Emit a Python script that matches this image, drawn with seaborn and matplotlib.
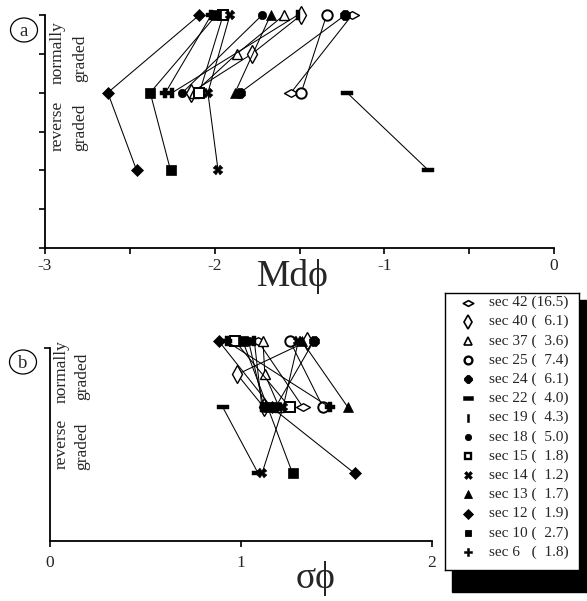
import numpy as np
import pandas as pd
import matplotlib
matplotlib.use("Agg")
import matplotlib.pyplot as plt
from matplotlib.path import Path
from matplotlib.patches import Rectangle, Ellipse
import seaborn as sns

# ---------------- data ----------------
sec_labels = ['sec 42 (16.5)', 'sec 40 (  6.1)', 'sec 37 (  3.6)', 'sec 25 (  7.4)',
              'sec 24 (  6.1)', 'sec 22 (  4.0)', 'sec 19 (  4.3)', 'sec 18 (  5.0)',
              'sec 15 (  1.8)', 'sec 14 (  1.2)', 'sec 13 (  1.7)', 'sec 12 (  1.9)',
              'sec 10 (  2.7)', 'sec 6   (  1.8)']

# sample level (0 = top of bed, downward)
sec42_level = [0, 2];    sec42_md = [-1.19, -1.55];        sec42_sd = [1.09, 1.325]
sec40_level = [0, 1, 2]; sec40_md = [-1.49, -1.78, -2.14]; sec40_sd = [1.345, 0.98, 1.12]
sec37_level = [0, 1, 2]; sec37_md = [-1.59, -1.87, -2.12]; sec37_sd = [1.115, 1.125, 1.20]
sec25_level = [0, 2];    sec25_md = [-1.34, -1.49];        sec25_sd = [1.257, 1.43]
sec24_level = [0, 2];    sec24_md = [-1.23, -1.85];        sec24_sd = [1.38, 1.18]
sec22_level = [2, 4];    sec22_md = [-1.22, -0.74];        sec22_sd = [0.905, 1.09]
sec19_level = [0, 2];    sec19_md = [-1.51, -2.25];        sec19_sd = [1.07, 1.11]
sec18_level = [0, 2];    sec18_md = [-1.72, -2.19];        sec18_sd = [1.04, 1.12]
sec15_level = [0, 2];    sec15_md = [-1.95, -2.09];        sec15_sd = [0.97, 1.255]
sec14_level = [0, 2, 4]; sec14_md = [-1.91, -2.04, -1.98]; sec14_sd = [1.30, 1.22, 1.11]
sec13_level = [0, 2];    sec13_md = [-1.67, -1.88];        sec13_sd = [1.32, 1.56]
sec12_level = [0, 2, 4]; sec12_md = [-2.09, -2.63, -2.46]; sec12_sd = [0.885, 1.16, 1.595]
sec10_level = [0, 2, 4]; sec10_md = [-1.99, -2.38, -2.26]; sec10_sd = [1.01, 1.14, 1.27]
sec6_level = [0, 2];     sec6_md = [-2.02, -2.29];         sec6_sd = [0.925, 1.465]

series = [
    (sec_labels[0], sec42_level, sec42_md, sec42_sd),
    (sec_labels[1], sec40_level, sec40_md, sec40_sd),
    (sec_labels[2], sec37_level, sec37_md, sec37_sd),
    (sec_labels[3], sec25_level, sec25_md, sec25_sd),
    (sec_labels[4], sec24_level, sec24_md, sec24_sd),
    (sec_labels[5], sec22_level, sec22_md, sec22_sd),
    (sec_labels[6], sec19_level, sec19_md, sec19_sd),
    (sec_labels[7], sec18_level, sec18_md, sec18_sd),
    (sec_labels[8], sec15_level, sec15_md, sec15_sd),
    (sec_labels[9], sec14_level, sec14_md, sec14_sd),
    (sec_labels[10], sec13_level, sec13_md, sec13_sd),
    (sec_labels[11], sec12_level, sec12_md, sec12_sd),
    (sec_labels[12], sec10_level, sec10_md, sec10_sd),
    (sec_labels[13], sec6_level, sec6_md, sec6_sd),
]

# ---------------- marker styles ----------------
wide_diamond = Path([(-1, 0), (0, 0.55), (1, 0), (0, -0.55), (-1, 0)],
                    [Path.MOVETO, Path.LINETO, Path.LINETO, Path.LINETO, Path.CLOSEPOLY])
hbar = Path([(-1, -0.38), (1, -0.38), (1, 0.38), (-1, 0.38), (-1, -0.38)],
            [Path.MOVETO, Path.LINETO, Path.LINETO, Path.LINETO, Path.CLOSEPOLY])
vbar = Path([(-0.4, -1), (0.4, -1), (0.4, 1), (-0.4, 1), (-0.4, -1)],
            [Path.MOVETO, Path.LINETO, Path.LINETO, Path.LINETO, Path.CLOSEPOLY])

# (marker, size, filled, edgewidth)
styles = [
    (wide_diamond, 10, False, 1.0),
    ('d', 9, False, 1.0),
    ('^', 7, False, 1.0),
    ('o', 7.5, False, 1.4),
    ('8', 7.5, True, 0.5),
    (hbar, 9, True, 0.3),
    (vbar, 7, True, 0.3),
    ('o', 6, True, 0.5),
    ('s', 6.5, False, 1.4),
    ('X', 7, True, 0.3),
    ('^', 7, True, 0.5),
    ('D', 6.5, True, 0.5),
    ('s', 6.5, True, 0.5),
    ('P', 7, True, 0.3),
]

W, H = 587, 601
sns.set_theme(style="white")
plt.rcParams['font.family'] = ['Liberation Serif', 'DejaVu Serif']
plt.rcParams['axes.unicode_minus'] = False

fig = plt.figure(figsize=(W / 100, H / 100), dpi=100)
fig.patch.set_facecolor('white')


def fx(x):
    return x / W


def fy(y):
    return 1 - y / H


# axes boxes (pixel coordinates in reference)
ax_a = fig.add_axes([fx(45), fy(248), (554 - 45) / W, (248 - 15) / H])
ax_b = fig.add_axes([fx(50), fy(541), (432 - 50) / W, (541 - 348) / H])


def draw(ax, col):
    for (lab, lev, md, sd), (mk, ms, filled, mew) in zip(series, styles):
        df = pd.DataFrame({'level': lev, 'md': md, 'sd': sd})
        sns.lineplot(data=df, x=col, y='level', sort=False, estimator=None,
                     ax=ax, color='black', linewidth=0.75, marker=mk,
                     markersize=ms, markerfacecolor='black' if filled else 'white',
                     markeredgecolor='black', markeredgewidth=mew,
                     clip_on=False, legend=False)


draw(ax_a, 'md')
draw(ax_b, 'sd')

for ax in (ax_a, ax_b):
    ax.set_xlabel('')
    ax.set_ylabel('')
    for s in ('top', 'right'):
        ax.spines[s].set_visible(False)
    for s in ('left', 'bottom'):
        ax.spines[s].set_color('black')
        ax.spines[s].set_linewidth(1.3)
    ax.set_facecolor('white')
    ax.grid(False)

# panel a axes
ax_a.set_xlim(-3, 0)
ax_a.set_ylim(6, 0)
ax_a.set_xticks([-3, -2, -1, 0])
ax_a.set_xticklabels(['-3', '-2', '-1', '0'])
ax_a.set_xticks([-2.5, -1.5, -0.5], minor=True)
ax_a.set_yticks(range(0, 7))
ax_a.set_yticklabels([])
ax_a.tick_params(axis='x', which='both', direction='out', length=4, width=1.2,
                 color='black', labelsize=12.5, pad=3, bottom=True)
ax_a.tick_params(axis='y', which='both', direction='out', length=4, width=1.2,
                 color='black', left=True)

# panel b axes
ax_b.set_xlim(0, 2)
ax_b.set_ylim(6.05, 0.2)
ax_b.set_xticks([0, 1, 2])
ax_b.set_xticklabels(['0', '1', '2'])
ax_b.set_yticks([0.2])
ax_b.set_yticklabels([])
ax_b.tick_params(axis='x', direction='out', length=4, width=1.2, color='black',
                 labelsize=12.5, pad=6, bottom=True)
ax_b.tick_params(axis='y', direction='out', length=4, width=1.2, color='black', left=True)

# axis titles
fig.text(fx(293), fy(286), 'Mdϕ', fontsize=27, ha='center', va='baseline')
fig.text(fx(316), fy(588), 'σϕ', fontsize=27, ha='center', va='baseline')

# rotated annotation texts
for (x, y, t) in [(58, 53, 'normally'), (80, 58, 'graded'),
                  (58, 126, 'reverse'), (80, 127, 'graded'),
                  (62, 372, 'normally'), (82, 376, 'graded'),
                  (62, 444, 'reverse'), (82, 446, 'graded')]:
    fig.text(fx(x), fy(y), t, rotation=90, fontsize=12.5, ha='center', va='center')

# circled panel letters
for (x, y, t) in [(24, 30, 'a'), (23, 362, 'b')]:
    fig.patches.append(Ellipse((fx(x), fy(y)), 27 / W, 24 / H, transform=fig.transFigure,
                               facecolor='white', edgecolor='black', linewidth=0.9))
    fig.text(fx(x), fy(y + 1), t, fontsize=13.5, ha='center', va='center')

# legend with shadow
fig.patches.append(Rectangle((fx(452), fy(592)), (587 - 452) / W, (592 - 300) / H,
                             transform=fig.transFigure, facecolor='black',
                             edgecolor='black', zorder=1))
ax_l = fig.add_axes([fx(445), fy(570), (579 - 445) / W, (570 - 293) / H])
ax_l.set_zorder(5)
ax_l.set_xlim(445, 579)
ax_l.set_ylim(570, 293)
ax_l.set_xticks([])
ax_l.set_yticks([])
ax_l.set_facecolor('white')
for s in ax_l.spines.values():
    s.set_visible(True)
    s.set_color('black')
    s.set_linewidth(1.0)
row_y = np.linspace(302.5, 552, len(series))
for (lab, lev, md, sd), (mk, ms, filled, mew), yy in zip(series, styles, row_y):
    ax_l.plot([468], [yy], marker=mk, markersize=ms * 0.75,
              markerfacecolor='black' if filled else 'white',
              markeredgecolor='black', markeredgewidth=mew * 1.2, linestyle='none')
    ax_l.text(489, yy, lab, fontsize=11, ha='left', va='center')

fig.savefig('out.png', dpi=100)
